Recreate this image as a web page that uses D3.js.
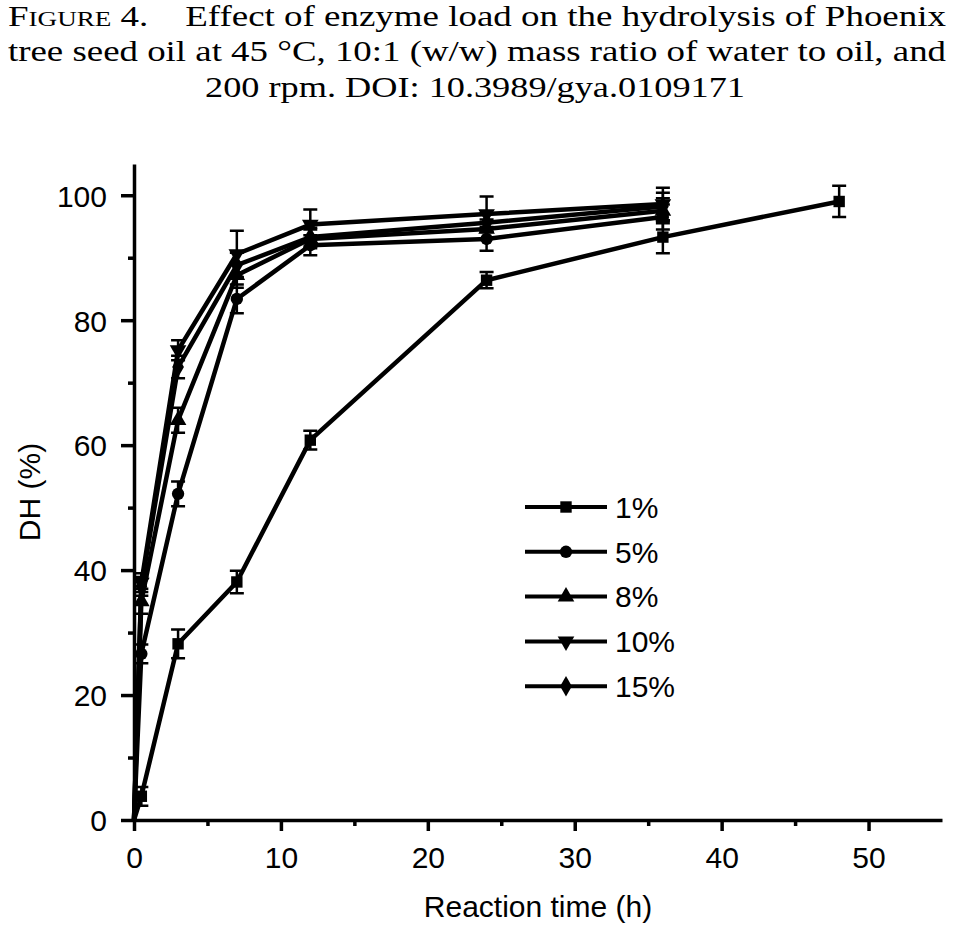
<!DOCTYPE html>
<html lang="en">
  <head>
    <meta charset="UTF-8" />
    <script src="https://d3js.org/d3.v7.min.js"></script>
    <title>Figure 4</title>
    <style>
      body { margin: 0; background: #fff; }
      svg { display: block; }
      .cap { font-family: "Liberation Serif", "Times New Roman", Times, serif; font-size: 30px; }
      .sans { font-family: "Liberation Sans", Arial, Helvetica, sans-serif; font-size: 30px; }
    </style>
  </head>
  <body>
    <svg id="chart" width="953" height="926"></svg>
    <script>
      // time points (h)
      const times = [0, 0.5, 3, 7, 12, 24, 36, 48];
      const loads = ["1%", "5%", "8%", "10%", "15%"];

      // DH (%) for each enzyme load
      const dh1 = [0, 3.8, 28.2, 38.1, 60.8, 86.4, 93.3, 99.0];
      const dh5 = [0, 26.6, 52.2, 83.4, 92.0, 93.0, 96.5];
      const dh8 = [0, 35.0, 64.0, 87.2, 93.0, 94.6, 97.5];
      const dh10 = [0, 38.0, 75.2, 90.6, 95.3, 97.0, 98.6];
      const dh15 = [0, 37.4, 72.5, 88.8, 93.3, 95.6, 98.2];

      // error bars (+/-)
      const err1 = [0, 1.5, 2.3, 1.8, 1.5, 1.3, 2.6, 2.5];
      const err5 = [0, 1.5, 2.0, 2.3, 1.6, 1.9, 2.0];
      const err8 = [0, 2.0, 2.0, 2.0, 1.5, 1.5, 2.0];
      const err10 = [0, 1.5, 1.6, 3.7, 2.4, 2.8, 2.6];
      const err15 = [0, 1.5, 1.8, 2.0, 1.5, 1.5, 2.2];

      const xTicks = [0, 10, 20, 30, 40, 50];
      const yTicks = [0, 20, 40, 60, 80, 100];

      const titleLines = [
        "Effect of enzyme load on the hydrolysis of Phoenix",
        "tree seed oil at 45 °C, 10:1 (w/w) mass ratio of water to oil, and",
        "200 rpm. DOI: 10.3989/gya.0109171",
      ];

      const seriesVals = [dh1, dh5, dh8, dh10, dh15];
      const seriesErr = [err1, err5, err8, err10, err15];
      const symbols = [
        d3.symbolSquare,
        d3.symbolCircle,
        d3.symbolTriangle,
        d3.symbolTriangle, // flipped below
        d3.symbolDiamond,
      ];

      const series = loads.map((name, i) => ({
        name,
        symbol: symbols[i],
        flip: i === 3,
        points: seriesVals[i].map((v, j) => ({ t: times[j], v, e: seriesErr[i][j] })),
      }));

      const svg = d3.select("#chart");

      // caption
      const cap = svg.append("g").attr("class", "cap");

      const l1 = cap.append("text").attr("x", 8).attr("y", 26)
        .attr("textLength", 938).attr("lengthAdjust", "spacingAndGlyphs");
      l1.append("tspan").text("F");
      l1.append("tspan").style("font-size", "22px").text("IGURE");
      l1.append("tspan").text(" 4.\u2003" + titleLines[0]);

      cap.append("text").attr("x", 8).attr("y", 61)
        .attr("textLength", 938).attr("lengthAdjust", "spacingAndGlyphs")
        .text(titleLines[1]);

      cap.append("text").attr("x", 475).attr("y", 97)
        .attr("text-anchor", "middle")
        .attr("textLength", 540).attr("lengthAdjust", "spacingAndGlyphs")
        .text(titleLines[2]);

      // plot area
      const x = d3.scaleLinear().domain([0, 55]).range([134, 942]);
      const y = d3.scaleLinear().domain([0, 105]).range([820, 164]);

      // series first, axes drawn over them
      const line = d3.line().x((d) => x(d.t)).y((d) => y(d.v));
      const sg = svg.append("g").selectAll("g").data(series).enter().append("g");

      // error bars
      sg.each(function (s) {
        const g = d3.select(this);
        const pts = s.points.filter((p) => p.e > 0);
        g.selectAll("path.err").data(pts).enter().append("path")
          .attr("class", "err")
          .attr("d", (p) => {
            const cx = x(p.t), y1 = y(p.v + p.e), y2 = y(p.v - p.e);
            return `M${cx},${y1}V${y2}M${cx - 7},${y1}H${cx + 7}M${cx - 7},${y2}H${cx + 7}`;
          })
          .attr("fill", "none").attr("stroke", "#000").attr("stroke-width", 2.5);
      });

      sg.append("path")
        .attr("d", (s) => line(s.points))
        .attr("fill", "none").attr("stroke", "#000").attr("stroke-width", 4.5)
        .attr("stroke-linejoin", "round");

      const markSize = (s) => (s.symbol === d3.symbolSquare ? 130 : 120);

      sg.each(function (s) {
        const sym = d3.symbol().type(s.symbol).size(markSize(s));
        d3.select(this).selectAll("path.mk").data(s.points.filter((p) => p.t > 0)).enter().append("path")
          .attr("class", "mk")
          .attr("d", sym)
          .attr("transform", (p) => `translate(${x(p.t)},${y(p.v)})${s.flip ? " rotate(180)" : ""}`)
          .attr("fill", "#000");
      });

      // minor ticks
      const gx = svg.append("g").attr("transform", `translate(0,${y(0)})`);
      gx.call(d3.axisBottom(x).tickValues(d3.range(5, 55, 10)).tickSize(6).tickFormat(""));
      gx.call((g) => g.select(".domain").remove());
      const gxMaj = svg.append("g").attr("transform", `translate(0,${y(0)})`)
        .call(d3.axisBottom(x).tickValues(xTicks).tickSize(11).tickPadding(10).tickSizeOuter(0));

      const gy = svg.append("g").attr("transform", `translate(${x(0)},0)`);
      gy.call(d3.axisLeft(y).tickValues(d3.range(10, 110, 20)).tickSize(6).tickFormat(""));
      gy.call((g) => g.select(".domain").remove());
      const gyMaj = svg.append("g").attr("transform", `translate(${x(0)},0)`)
        .call(d3.axisLeft(y).tickValues(yTicks).tickSize(13).tickPadding(14).tickSizeOuter(0));

      svg.selectAll(".domain").attr("stroke", "#000").attr("stroke-width", 3.5);
      svg.selectAll(".tick line").attr("stroke", "#000").attr("stroke-width", 3.5);
      svg.selectAll(".tick text").attr("class", "sans").attr("font-family", null).attr("font-size", null).attr("fill", "#000");
      gxMaj.selectAll(".tick text").attr("dy", "0.9em");
      gyMaj.selectAll(".tick text").attr("dy", "0.36em");

      // axis titles
      svg.append("text").attr("class", "sans")
        .attr("transform", `translate(40,${(y(0) + y(105)) / 2}) rotate(-90)`)
        .attr("text-anchor", "middle")
        .text("DH (%)");

      svg.append("text").attr("class", "sans")
        .attr("x", (x(0) + x(55)) / 2).attr("y", 917)
        .attr("text-anchor", "middle")
        .text("Reaction time (h)");

      // legend
      const leg = svg.append("g").selectAll("g").data(series).enter().append("g")
        .attr("transform", (s, i) => `translate(525,${507 + i * 44.8})`);
      leg.append("line").attr("x1", 0).attr("x2", 82)
        .attr("stroke", "#000").attr("stroke-width", 4);
      leg.append("path")
        .attr("d", (s) => d3.symbol().type(s.symbol).size(markSize(s))())
        .attr("transform", (s) => `translate(41,0)${s.flip ? " rotate(180)" : ""}`)
        .attr("fill", "#000");
      leg.append("text").attr("class", "sans").attr("x", 90).attr("dy", "0.36em")
        .text((s) => s.name);
    </script>
  </body>
</html>
